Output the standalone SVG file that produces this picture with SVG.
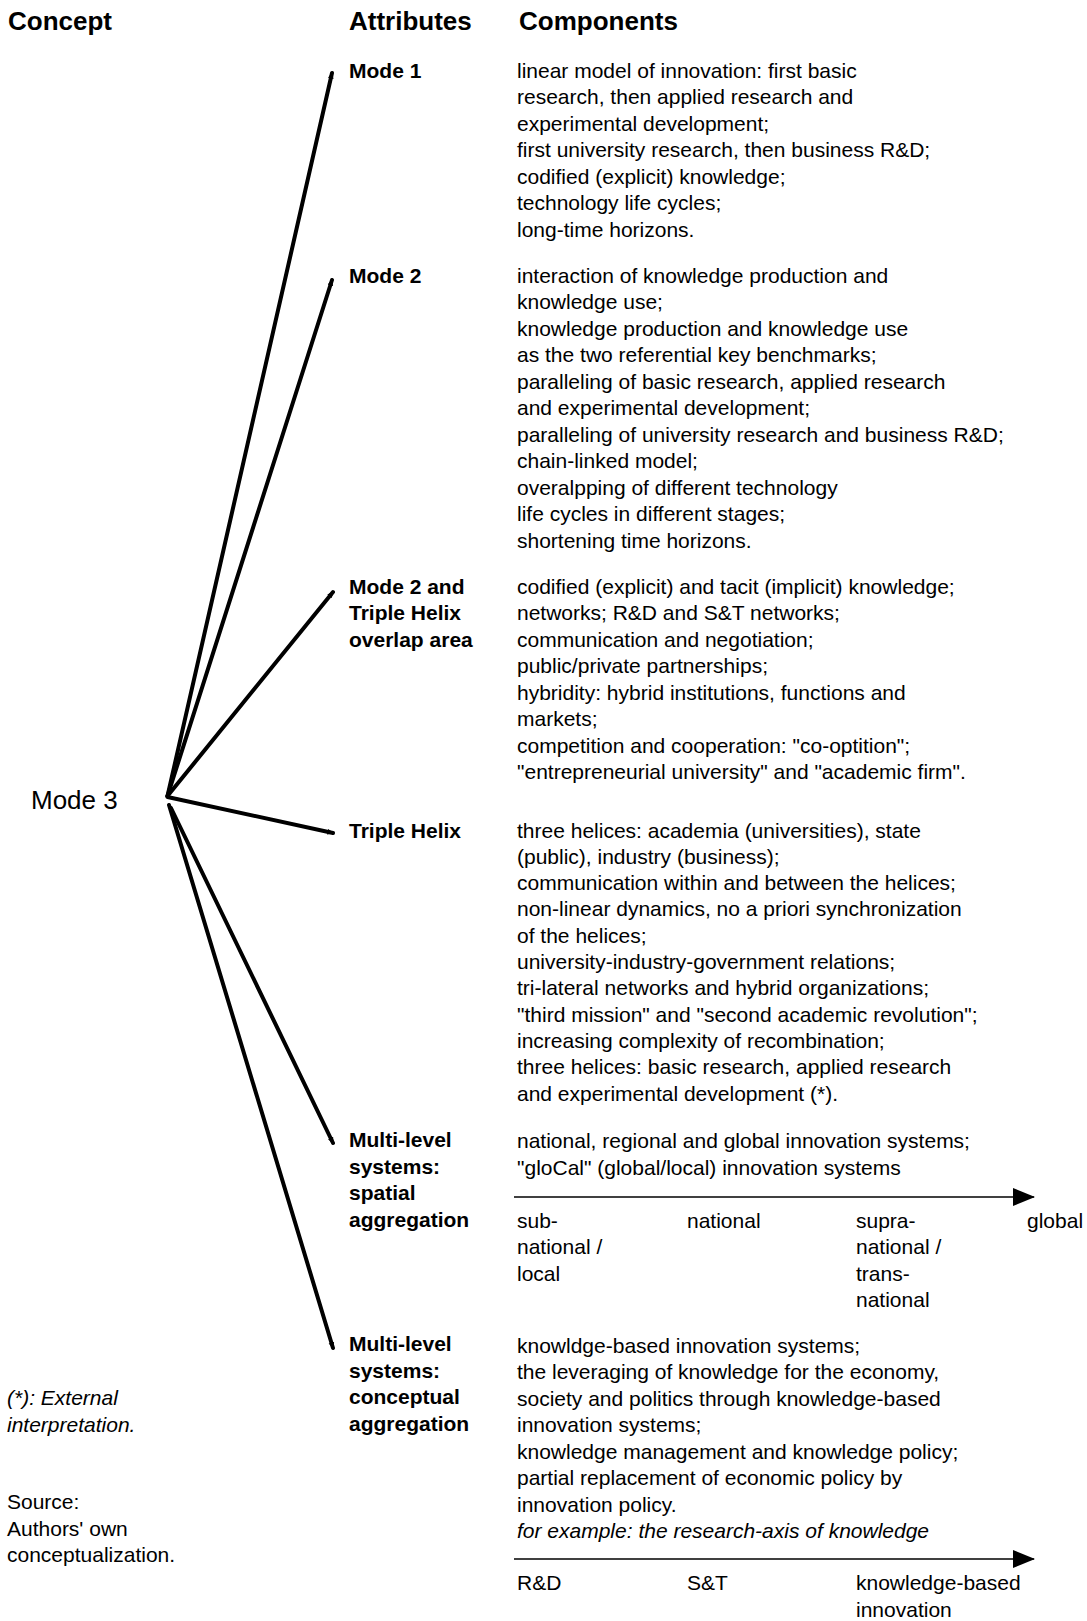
<svg xmlns="http://www.w3.org/2000/svg" width="1087" height="1621" viewBox="0 0 1087 1621">
  <style>
    text { font-family: "Liberation Sans", Arial, Helvetica, sans-serif; fill: #000; }
    .hdr { font-size: 26px; font-weight: bold; }
    .attr { font-size: 21px; font-weight: bold; }
    .body { font-size: 21px; }
    .ital { font-style: italic; }
    .concept { font-size: 26px; }
    .spoke { stroke: #000; stroke-width: 4; fill: none; stroke-linecap: round; }
    .axis { stroke: #000; stroke-width: 1.6; fill: none; }
  </style>
  <defs>
    <marker id="tip" viewBox="0 0 10 10" refX="8" refY="5" markerWidth="7" markerHeight="7" markerUnits="userSpaceOnUse" orient="auto">
      <path d="M0,1 L10,5 L0,9 Z" fill="#000"/>
    </marker>
    <marker id="axisHead" viewBox="0 0 22 18" refX="21" refY="9" markerWidth="22" markerHeight="18" markerUnits="userSpaceOnUse" orient="auto">
      <path d="M0,0 L22,9 L0,18 Z" fill="#000"/>
    </marker>
  </defs>

  <!-- column headings -->
  <g id="headers">
    <text class="hdr" x="8" y="30">Concept</text>
    <text class="hdr" x="349" y="30">Attributes</text>
    <text class="hdr" x="519" y="30">Components</text>
  </g>

  <!-- spokes from the central concept to each attribute -->
  <g id="connectors">
    <line class="spoke" x1="167.5" y1="796" x2="332" y2="73" marker-end="url(#tip)"/>
    <line class="spoke" x1="167.5" y1="796" x2="332" y2="280" marker-end="url(#tip)"/>
    <line class="spoke" x1="167.5" y1="796" x2="333" y2="592" marker-end="url(#tip)"/>
    <line class="spoke" x1="167.5" y1="797" x2="333" y2="833" marker-end="url(#tip)"/>
    <line class="spoke" x1="171" y1="808" x2="333" y2="1143" marker-end="url(#tip)"/>
    <line class="spoke" x1="169" y1="805" x2="333" y2="1348" marker-end="url(#tip)"/>
  </g>

  <g id="mode3">
    <text class="concept" x="31" y="809">Mode 3</text>
  </g>

  <g id="mode1">
    <text class="attr" x="349" y="77.5">Mode 1</text>
    <text class="body" x="517">
      <tspan x="517" y="77.5">linear model of innovation: first basic</tspan>
      <tspan x="517" y="104">research, then applied research and</tspan>
      <tspan x="517" y="130.5">experimental development;</tspan>
      <tspan x="517" y="157">first university research, then business R&amp;D;</tspan>
      <tspan x="517" y="183.5">codified (explicit) knowledge;</tspan>
      <tspan x="517" y="210">technology life cycles;</tspan>
      <tspan x="517" y="236.5">long-time horizons.</tspan>
    </text>
  </g>

  <g id="mode2">
    <text class="attr" x="349" y="282.5">Mode 2</text>
    <text class="body">
      <tspan x="517" y="282.5">interaction of knowledge production and</tspan>
      <tspan x="517" y="309">knowledge use;</tspan>
      <tspan x="517" y="335.5">knowledge production and knowledge use</tspan>
      <tspan x="517" y="362">as the two referential key benchmarks;</tspan>
      <tspan x="517" y="388.5">paralleling of basic research, applied research</tspan>
      <tspan x="517" y="415">and experimental development;</tspan>
      <tspan x="517" y="441.5">paralleling of university research and business R&amp;D;</tspan>
      <tspan x="517" y="468">chain-linked model;</tspan>
      <tspan x="517" y="494.5">overalpping of different technology</tspan>
      <tspan x="517" y="521">life cycles in different stages;</tspan>
      <tspan x="517" y="547.5">shortening time horizons.</tspan>
    </text>
  </g>

  <g id="mode2-triple-helix">
    <text class="attr">
      <tspan x="349" y="593.5">Mode 2 and</tspan>
      <tspan x="349" y="620">Triple Helix</tspan>
      <tspan x="349" y="646.5">overlap area</tspan>
    </text>
    <text class="body">
      <tspan x="517" y="593.5">codified (explicit) and tacit (implicit) knowledge;</tspan>
      <tspan x="517" y="620">networks; R&amp;D and S&amp;T networks;</tspan>
      <tspan x="517" y="646.5">communication and negotiation;</tspan>
      <tspan x="517" y="673">public/private partnerships;</tspan>
      <tspan x="517" y="699.5">hybridity: hybrid institutions, functions and</tspan>
      <tspan x="517" y="726">markets;</tspan>
      <tspan x="517" y="752.5">competition and cooperation: "co-optition";</tspan>
      <tspan x="517" y="779">"entrepreneurial university" and "academic firm".</tspan>
    </text>
  </g>

  <g id="triple-helix">
    <text class="attr" x="349" y="837.5">Triple Helix</text>
    <text class="body">
      <tspan x="517" y="837.5">three helices: academia (universities), state</tspan>
      <tspan x="517" y="863.8">(public), industry (business);</tspan>
      <tspan x="517" y="890.1">communication within and between the helices;</tspan>
      <tspan x="517" y="916.4">non-linear dynamics, no a priori synchronization</tspan>
      <tspan x="517" y="942.7">of the helices;</tspan>
      <tspan x="517" y="969">university-industry-government relations;</tspan>
      <tspan x="517" y="995.3">tri-lateral networks and hybrid organizations;</tspan>
      <tspan x="517" y="1021.6">"third mission" and "second academic revolution";</tspan>
      <tspan x="517" y="1047.9">increasing complexity of recombination;</tspan>
      <tspan x="517" y="1074.2">three helices: basic research, applied research</tspan>
      <tspan x="517" y="1100.5">and experimental development (*).</tspan>
    </text>
  </g>

  <g id="multilevel-spatial">
    <text class="attr">
      <tspan x="349" y="1147">Multi-level</tspan>
      <tspan x="349" y="1173.5">systems:</tspan>
      <tspan x="349" y="1200">spatial</tspan>
      <tspan x="349" y="1226.5">aggregation</tspan>
    </text>
    <text class="body">
      <tspan x="517" y="1148">national, regional and global innovation systems;</tspan>
      <tspan x="517" y="1174.5">"gloCal" (global/local) innovation systems</tspan>
    </text>
    <line class="axis" x1="514" y1="1197" x2="1034" y2="1197" marker-end="url(#axisHead)"/>
    <text class="body">
      <tspan x="517" y="1227.5">sub-</tspan>
      <tspan x="517" y="1254">national /</tspan>
      <tspan x="517" y="1280.5">local</tspan>
    </text>
    <text class="body" x="687" y="1227.5">national</text>
    <text class="body">
      <tspan x="856" y="1227.5">supra-</tspan>
      <tspan x="856" y="1254">national /</tspan>
      <tspan x="856" y="1280.5">trans-</tspan>
      <tspan x="856" y="1307">national</tspan>
    </text>
    <text class="body" x="1027" y="1227.5">global</text>
  </g>

  <g id="multilevel-conceptual">
    <text class="attr">
      <tspan x="349" y="1351">Multi-level</tspan>
      <tspan x="349" y="1377.5">systems:</tspan>
      <tspan x="349" y="1404">conceptual</tspan>
      <tspan x="349" y="1430.5">aggregation</tspan>
    </text>
    <text class="body">
      <tspan x="517" y="1352.5">knowldge-based innovation systems;</tspan>
      <tspan x="517" y="1379">the leveraging of knowledge for the economy,</tspan>
      <tspan x="517" y="1405.5">society and politics through knowledge-based</tspan>
      <tspan x="517" y="1432">innovation systems;</tspan>
      <tspan x="517" y="1458.5">knowledge management and knowledge policy;</tspan>
      <tspan x="517" y="1485">partial replacement of economic policy by</tspan>
      <tspan x="517" y="1511.5">innovation policy.</tspan>
    </text>
    <text class="body ital" x="517" y="1538">for example: the research-axis of knowledge</text>
    <line class="axis" x1="514" y1="1559" x2="1034" y2="1559" marker-end="url(#axisHead)"/>
    <text class="body" x="517" y="1590">R&amp;D</text>
    <text class="body" x="687" y="1590">S&amp;T</text>
    <text class="body">
      <tspan x="856" y="1590">knowledge-based</tspan>
      <tspan x="856" y="1616.5">innovation</tspan>
    </text>
  </g>

  <!-- footnotes -->
  <g id="notes">
    <text class="body ital">
      <tspan x="7" y="1405">(*): External</tspan>
      <tspan x="7" y="1431.5">interpretation.</tspan>
    </text>
    <text class="body">
      <tspan x="7" y="1509">Source:</tspan>
      <tspan x="7" y="1535.5">Authors' own</tspan>
      <tspan x="7" y="1562">conceptualization.</tspan>
    </text>
  </g>
</svg>
